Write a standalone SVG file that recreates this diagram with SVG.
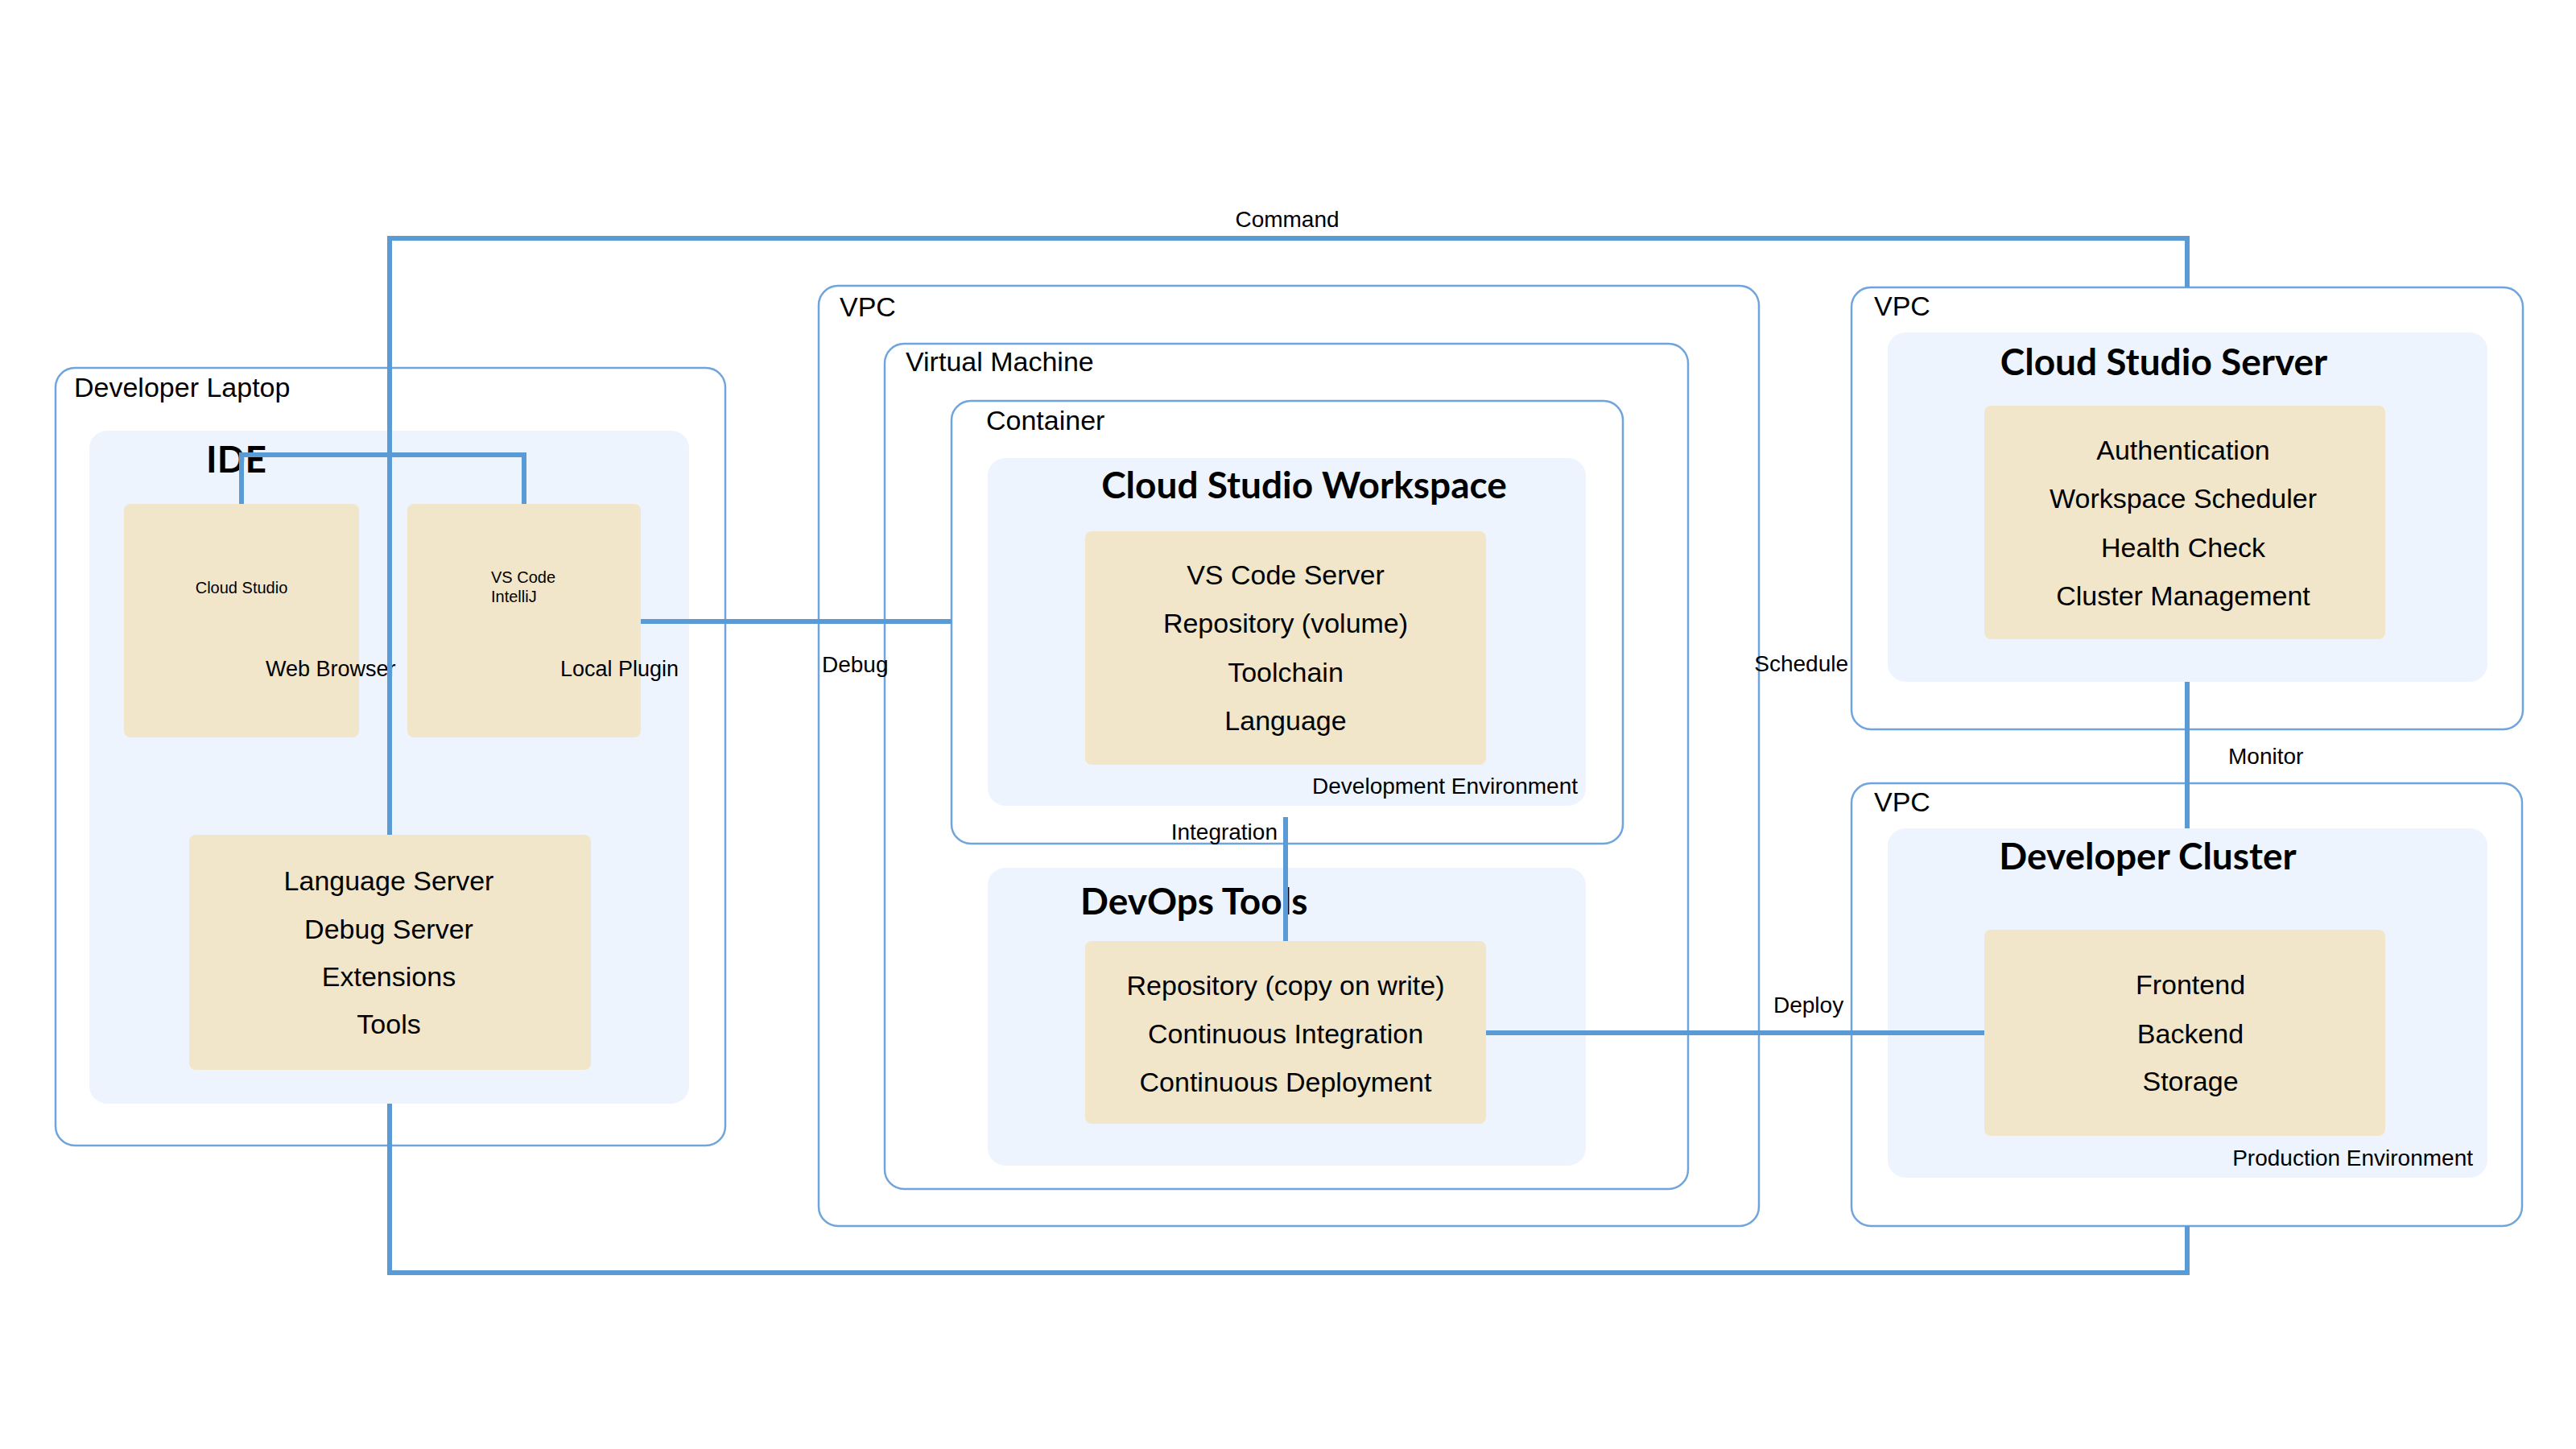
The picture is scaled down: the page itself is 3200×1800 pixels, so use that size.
<svg xmlns="http://www.w3.org/2000/svg" width="3200" height="1800" viewBox="0 0 3200 1800">
<style>
.grp{fill:#ffffff;stroke:#6fa5dc;stroke-width:2.5}
.pan{fill:#edf4fd;stroke:none}
.box{fill:#f1e6c9;stroke:none}
.gl{font-family:"Liberation Sans",Arial,sans-serif;font-size:34px;fill:#000}
.tt{font-family:Lato,"Open Sans",sans-serif;font-size:46px;font-weight:bold;fill:#000}
.bt{font-family:"Liberation Sans",Arial,sans-serif;font-size:34px;fill:#000;text-anchor:middle}
.lb{font-family:"Liberation Sans",Arial,sans-serif;font-size:28px;fill:#000}
.sm{font-family:"Liberation Sans",Arial,sans-serif;font-size:20px;fill:#000}
.cn{fill:none;stroke:#5b9bd5;stroke-width:6}
</style>
<rect width="3200" height="1800" fill="#ffffff"/>
<g id="developer-laptop">
<rect class="grp" x="69" y="457" width="832" height="966" rx="24"/>
<text class="gl" x="92" y="493">Developer Laptop</text>
</g>
<g id="ide">
<rect class="pan" x="111" y="535" width="745" height="836" rx="22"/>
<text class="tt" x="256" y="587">IDE</text>
</g>
<g id="web-browser">
<rect class="box" x="154" y="626" width="292" height="290" rx="8"/>
<text class="sm" x="300" y="737" text-anchor="middle">Cloud Studio</text>
<text class="lb" x="330" y="840" style="font-size:27px">Web Browser</text>
</g>
<g id="local-plugin">
<rect class="box" x="506" y="626" width="290" height="290" rx="8"/>
<text class="sm" x="610" y="724">VS Code</text>
<text class="sm" x="610" y="748">IntelliJ</text>
<text class="lb" x="696" y="840" style="font-size:27px">Local Plugin</text>
</g>
<g id="ide-services">
<rect class="box" x="235" y="1037" width="499" height="292" rx="8"/>
<text class="bt" x="483" y="1106">Language Server</text>
<text class="bt" x="483" y="1166">Debug Server</text>
<text class="bt" x="483" y="1225">Extensions</text>
<text class="bt" x="483" y="1284">Tools</text>
</g>
<g id="vpc-workspace">
<rect class="grp" x="1017" y="355" width="1168" height="1168" rx="24"/>
<text class="gl" x="1043" y="393">VPC</text>
</g>
<g id="virtual-machine">
<rect class="grp" x="1099" y="427" width="998" height="1050" rx="24"/>
<text class="gl" x="1125" y="461">Virtual Machine</text>
</g>
<g id="container">
<rect class="grp" x="1182" y="498" width="834" height="550" rx="24"/>
<text class="gl" x="1225" y="534">Container</text>
</g>
<g id="cloud-studio-workspace">
<rect class="pan" x="1227" y="569" width="743" height="432" rx="22"/>
<text class="tt" x="1620" y="619" text-anchor="middle">Cloud Studio Workspace</text>
<rect class="box" x="1348" y="660" width="498" height="290" rx="8"/>
<text class="bt" x="1597" y="726">VS Code Server</text>
<text class="bt" x="1597" y="786">Repository (volume)</text>
<text class="bt" x="1597" y="847">Toolchain</text>
<text class="bt" x="1597" y="907">Language</text>
<text class="lb" x="1960" y="986" text-anchor="end">Development Environment</text>
</g>
<g id="devops-tools">
<rect class="pan" x="1227" y="1078" width="743" height="370" rx="22"/>
<text class="tt" x="1342" y="1136">DevOps Tools</text>
<rect class="box" x="1348" y="1169" width="498" height="227" rx="8"/>
<text class="bt" x="1597" y="1236">Repository (copy on write)</text>
<text class="bt" x="1597" y="1296">Continuous Integration</text>
<text class="bt" x="1597" y="1356">Continuous Deployment</text>
</g>
<g id="vpc-server">
<rect class="grp" x="2300" y="357" width="834" height="549" rx="24"/>
<text class="gl" x="2328" y="392">VPC</text>
</g>
<g id="cloud-studio-server">
<rect class="pan" x="2345" y="413" width="745" height="434" rx="22"/>
<text class="tt" x="2688" y="466" text-anchor="middle">Cloud Studio Server</text>
<rect class="box" x="2465" y="504" width="498" height="290" rx="8"/>
<text class="bt" x="2712" y="571">Authentication</text>
<text class="bt" x="2712" y="631">Workspace Scheduler</text>
<text class="bt" x="2712" y="692">Health Check</text>
<text class="bt" x="2712" y="752">Cluster Management</text>
</g>
<g id="vpc-cluster">
<rect class="grp" x="2300" y="973" width="833" height="550" rx="24"/>
<text class="gl" x="2328" y="1008">VPC</text>
</g>
<g id="developer-cluster">
<rect class="pan" x="2345" y="1029" width="745" height="434" rx="22"/>
<text class="tt" x="2668" y="1080" text-anchor="middle">Developer Cluster</text>
<rect class="box" x="2465" y="1155" width="498" height="256" rx="8"/>
<text class="bt" x="2721" y="1235">Frontend</text>
<text class="bt" x="2721" y="1296">Backend</text>
<text class="bt" x="2721" y="1355">Storage</text>
<text class="lb" x="3072" y="1448" text-anchor="end">Production Environment</text>
</g>
<g id="connectors">
<path class="cn" d="M2717,357 V296 H484 V1037"/>
<path class="cn" d="M300,626 V565 H651 V626"/>
<path class="cn" d="M484,1371 V1581 H2717 V1523"/>
<path class="cn" d="M796,772 H1182"/>
<path class="cn" d="M1597,1015 V1169"/>
<path class="cn" d="M1846,1283 H2465"/>
<path class="cn" d="M2717,847 V1029"/>
<text class="lb" x="1599" y="282" text-anchor="middle">Command</text>
<text class="lb" x="1021" y="835">Debug</text>
<text class="lb" x="1587" y="1043" text-anchor="end">Integration</text>
<text class="lb" x="2296" y="834" text-anchor="end">Schedule</text>
<text class="lb" x="2768" y="949">Monitor</text>
<text class="lb" x="2203" y="1258">Deploy</text>
</g>
</svg>
